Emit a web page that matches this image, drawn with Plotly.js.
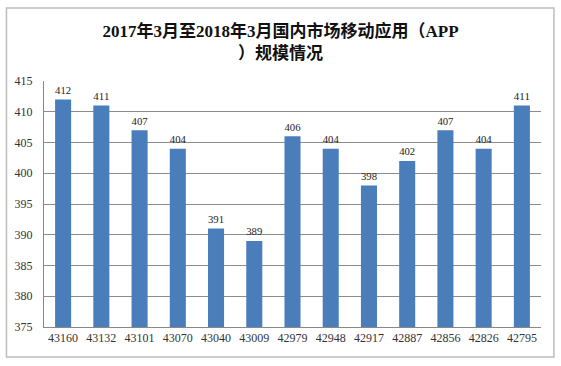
<!DOCTYPE html>
<html><head><meta charset="utf-8">
<script src="https://cdn.plot.ly/plotly-3.0.1.min.js"></script>
<style>html,body{margin:0;padding:0;background:#fff;}#chart{width:561px;height:366px;}</style>
</head><body><div id="chart"></div>
<script>
const categories = ["43160","43132","43101","43070","43040","43009","42979","42948","42917","42887","42856","42826","42795"];
const values = [412,411,407,404,391,389,406,404,398,402,407,404,411];
const yTicks = [375,380,385,390,395,400,405,410,415];

const trace = {
  type: 'bar',
  x: categories,
  y: values,
  text: values.map(String),
  textposition: 'outside',
  cliponaxis: false,
  textfont: {family: 'Liberation Serif, Noto Sans CJK SC', size: 12, color: '#222'},
  marker: {color: '#4a7ebb', line: {width: 0}},
  hoverinfo: 'none'
};

const layout = {
  width: 561, height: 366,
  margin: {l: 44, r: 20, t: 81, b: 39},
  paper_bgcolor: '#fff', plot_bgcolor: '#fff',
  showlegend: false,
  bargap: 0.58,
  title: {
    text: '2017年3月至2018年3月国内市场移动应用（APP<br>）规模情况',
    font: {family: 'Liberation Serif, Noto Sans CJK SC', size: 17, color: '#111', weight: 'bold'},
    x: 0.5, xanchor: 'center', y: 0.9, yanchor: 'middle'
  },
  xaxis: {
    type: 'category',
    tickfont: {family: 'Liberation Serif, Noto Sans CJK SC', size: 12, color: '#333'},
    showline: true, linecolor: '#888', linewidth: 1,
    ticks: '', showgrid: false
  },
  yaxis: {
    range: [375, 415],
    tickvals: yTicks,
    ticktext: yTicks.map(String),
    tickfont: {family: 'Liberation Serif, Noto Sans CJK SC', size: 12, color: '#333'},
    showgrid: true, gridcolor: '#8c8c8c', gridwidth: 1,
    showline: true, linecolor: '#888', linewidth: 1,
    ticks: '', ticklabelstandoff: 8, zeroline: false
  },
  shapes: [{
    type: 'rect', xref: 'paper', yref: 'paper',
    x0: -0.0755, x1: 1.026, y0: -0.122, y1: 1.297,
    line: {color: '#bdbdbd', width: 1.5}, fillcolor: 'rgba(0,0,0,0)', layer: 'below'
  }]
};

Plotly.newPlot('chart', [trace], layout, {displayModeBar: false, staticPlot: true});
</script></body></html>
